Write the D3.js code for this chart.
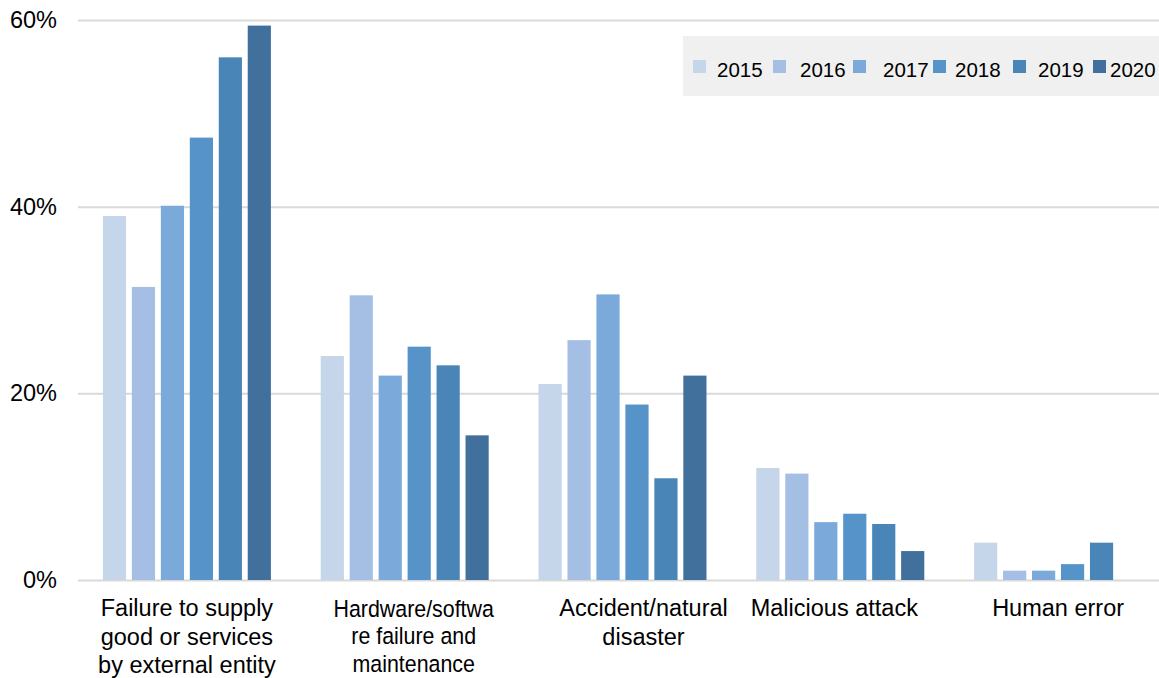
<!DOCTYPE html>
<html>
<head>
<meta charset="utf-8">
<script src="https://cdn.jsdelivr.net/npm/d3@7"></script>
<style>
  html, body { margin: 0; padding: 0; background: #ffffff; }
  svg { display: block; font-family: "Liberation Sans", Arial, sans-serif; }
</style>
</head>
<body>
<svg id="chart" width="1159" height="678"></svg>
<script>
// Incident causes by year (share of incidents, %)
const categories = [
  "Failure to supply good or services by external entity",
  "Hardware/software failure and maintenance",
  "Accident/natural disaster",
  "Malicious attack",
  "Human error"
];
// Wrapped label lines as shown under each group
const categoryLines = [
  ["Failure to supply", "good or services", "by external entity"],
  ["Hardware/softwa", "re failure and", "maintenance"],
  ["Accident/natural", "disaster"],
  ["Malicious attack"],
  ["Human error"]
];
const years = ["2015", "2016", "2017", "2018", "2019", "2020"];
const values2015 = [39.0, 24.0, 21.0, 12.0, 4.0];
const values2016 = [31.4, 30.5, 25.7, 11.4, 1.0];
const values2017 = [40.1, 21.9, 30.6, 6.2, 1.0];
const values2018 = [47.4, 25.0, 18.8, 7.1, 1.7];
const values2019 = [56.0, 23.0, 10.9, 6.0, 4.0];
const values2020 = [59.4, 15.5, 21.9, 3.1, null];
const yTicks = [0, 20, 40, 60];

const seriesValues = [values2015, values2016, values2017, values2018, values2019, values2020];
const colors = ["#c5d5ea", "#a4bfe3", "#7ba9da", "#5593c9", "#4a85b7", "#41709c"];

const svg = d3.select("#chart");
const W = 1159, H = 678;

const y = d3.scaleLinear().domain([0, 60]).range([580, 20]);
const x0 = d3.scaleBand().domain(categories).range([78, 1167])
  .paddingInner(0.2287).paddingOuter(0.1144);
const x1 = d3.scaleBand().domain(years).range([0, x0.bandwidth()])
  .paddingInner(0.2).paddingOuter(0);

// Horizontal gridlines
const yAxis = d3.axisLeft(y).tickValues(yTicks)
  .tickFormat(d => d + "%")
  .tickSize(-(W - 78)).tickPadding(21);
const gy = svg.append("g").attr("transform", "translate(78,0)").call(yAxis);
gy.select(".domain").remove();
gy.selectAll(".tick line").attr("stroke", "#d9d9d9").attr("stroke-width", 2);
gy.selectAll(".tick text")
  .attr("fill", "#000").attr("font-size", "23.5px")
  .attr("font-family", "Liberation Sans, Arial, sans-serif");

// Bars
const groups = svg.append("g").selectAll("g")
  .data(categories)
  .join("g")
  .attr("transform", d => `translate(${x0(d)},0)`);

groups.selectAll("rect")
  .data((d, i) => years.map((yr, j) => ({ yr, v: seriesValues[j][i], c: colors[j] }))
    .filter(e => e.v != null))
  .join("rect")
  .attr("x", d => x1(d.yr))
  .attr("width", x1.bandwidth())
  .attr("y", d => y(d.v))
  .attr("height", d => y(0) - y(d.v))
  .attr("fill", d => d.c);

// Category labels
const labelShift = [0, 9, 21, -6, 0];
const labelSqueeze = [1, 0.91, 1, 1, 1];
const labelTop = [616, 617, 616, 616, 616];
const lineGap = [28.5, 27.5, 28.5, 28.5, 28.5];
const labels = svg.append("g").selectAll("text")
  .data(categories)
  .join("text")
  .attr("text-anchor", "middle")
  .attr("font-size", "23.5px")
  .attr("fill", "#000")
  .attr("transform", (d, i) =>
    `translate(${x0(d) + x0.bandwidth() / 2 + labelShift[i]},${labelTop[i]}) scale(${labelSqueeze[i]},1)`);
labels.selectAll("tspan")
  .data((d, i) => categoryLines[i].map(t => ({ t, gap: lineGap[i] })))
  .join("tspan")
  .attr("x", 0)
  .attr("dy", (d, k) => k === 0 ? 0 : d.gap)
  .text(d => d.t);

// Legend
const legend = svg.append("g");
legend.append("rect")
  .attr("x", 683).attr("y", 36).attr("width", W - 683).attr("height", 60)
  .attr("fill", "#f0f0f0");
const textOffset = [24, 27, 30, 22, 25, 17];
const item = legend.selectAll("g.item")
  .data(years)
  .join("g")
  .attr("class", "item")
  .attr("transform", (d, i) => `translate(${693 + i * 80},0)`);
item.append("rect")
  .attr("x", 0).attr("y", 60).attr("width", 13).attr("height", 13)
  .attr("fill", (d, i) => colors[i]);
item.append("text")
  .attr("x", (d, i) => textOffset[i]).attr("y", 77)
  .attr("font-size", "20.5px").attr("fill", "#000")
  .text(d => d);
</script>
</body>
</html>
